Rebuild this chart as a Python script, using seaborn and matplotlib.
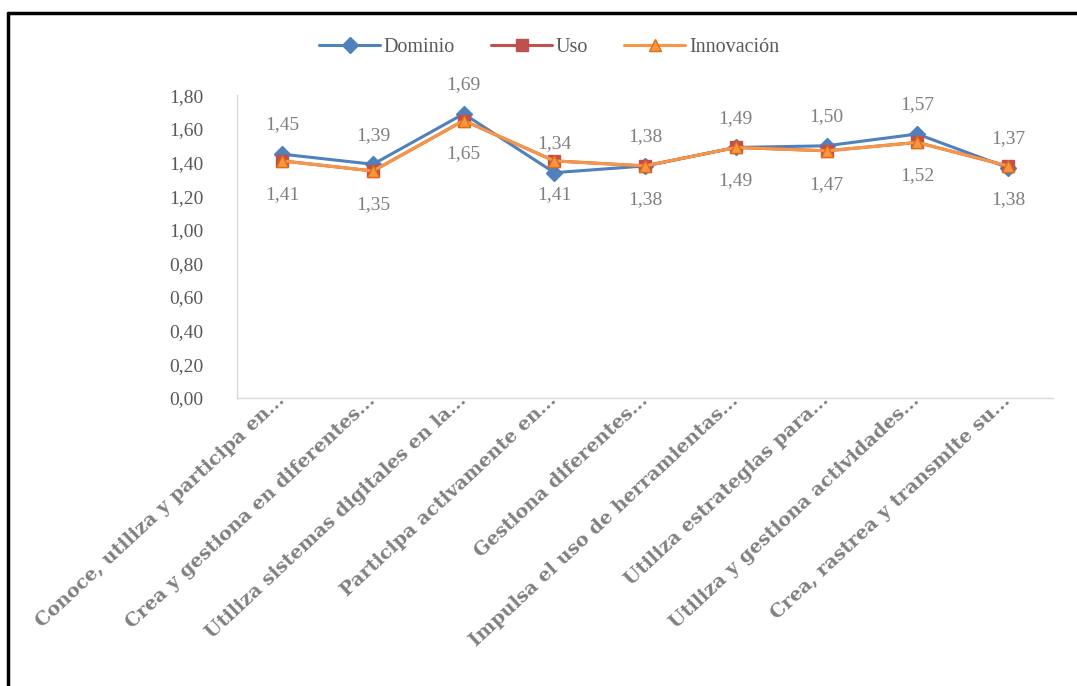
import numpy as np
import pandas as pd
import matplotlib
matplotlib.use("Agg")
import matplotlib.pyplot as plt
import matplotlib.transforms as mtransforms
from matplotlib.lines import Line2D
from matplotlib.font_manager import FontProperties
from matplotlib.ticker import FuncFormatter, MultipleLocator
import seaborn as sns

# Competencias evaluadas (etiquetas del eje X)
categories = [
    "Conoce, utiliza y participa en...",
    "Crea y gestiona en diferentes...",
    "Utiliza sistemas digitales en la...",
    "Participa activamente en...",
    "Gestiona diferentes...",
    "Impulsa el uso de herramientas...",
    "Utiliza estrategias para...",
    "Utiliza y gestiona actividades...",
    "Crea, rastrea y transmite su...",
]

# Medias por dimensión
dominio = [1.45, 1.39, 1.69, 1.34, 1.38, 1.49, 1.50, 1.57, 1.37]
uso = [1.41, 1.35, 1.65, 1.41, 1.38, 1.49, 1.47, 1.52, 1.38]
innovacion = [1.41, 1.35, 1.65, 1.41, 1.38, 1.49, 1.47, 1.52, 1.38]

series_names = ["Dominio", "Uso", "Innovación"]
series_values = [dominio, uso, innovacion]
colors = {"Dominio": "#4F81BD", "Uso": "#C0504D", "Innovación": "#F79646"}
edge_colors = {"Dominio": "#4F81BD", "Uso": "#C0504D", "Innovación": "#E46C0A"}
markers = {"Dominio": "D", "Uso": "s", "Innovación": "^"}
marker_sizes = {"Dominio": 8, "Uso": 9, "Innovación": 8}

pos = np.arange(len(categories))
df = pd.concat(
    [pd.DataFrame({"pos": pos, "valor": vals, "serie": name})
     for name, vals in zip(series_names, series_values)],
    ignore_index=True,
)

sns.set_style("white")
plt.rcParams["font.family"] = ["Liberation Serif", "DejaVu Serif"]

fig = plt.figure(figsize=(10.77, 6.86), dpi=100)
ax = fig.add_axes([0.220, 0.420, 0.758, 0.441])

for name in series_names:
    sub = df[df["serie"] == name]
    sns.lineplot(
        data=sub, x="pos", y="valor", ax=ax,
        color=colors[name], linewidth=2.2,
        marker=markers[name], markersize=marker_sizes[name],
        markerfacecolor=colors[name], markeredgecolor=edge_colors[name],
        markeredgewidth=1.0, label=name, legend=False,
    )

label_color = "#7F7F7F"
fmt = lambda v: f"{v:.2f}".replace(".", ",")
for x, v in zip(pos, dominio):
    ax.annotate(fmt(v), (x, v), xytext=(0, 21), textcoords="offset points",
                ha="center", va="center", fontsize=14, color=label_color)
for x, v in zip(pos, innovacion):
    ax.annotate(fmt(v), (x, v), xytext=(0, -24), textcoords="offset points",
                ha="center", va="center", fontsize=14, color=label_color)

ax.set_xlim(-0.5, len(categories) - 0.5)
ax.set_ylim(0, 1.8)
ax.yaxis.set_major_locator(MultipleLocator(0.2))
ax.yaxis.set_major_formatter(FuncFormatter(lambda v, _: f"{v:.2f}".replace(".", ",")))
ax.set_xlabel("")
ax.set_ylabel("")
ax.set_xticks(pos)
tick_font = FontProperties(family="DejaVu Serif", weight="bold", size=13.8)
ax.set_xticklabels(categories, rotation=43, ha="right", va="center",
                   rotation_mode="anchor", fontproperties=tick_font,
                   color="#808080")
offset = mtransforms.ScaledTranslation(22 / 100, -14 / 100, fig.dpi_scale_trans)
for lbl in ax.get_xticklabels():
    lbl.set_transform(lbl.get_transform() + offset)
ax.tick_params(axis="x", length=0, pad=0)
ax.tick_params(axis="y", length=0, pad=24, labelsize=14, labelcolor="#595959")

for side in ["top", "right"]:
    ax.spines[side].set_visible(False)
for side in ["left", "bottom"]:
    ax.spines[side].set_color("#D9D9D9")
    ax.spines[side].set_linewidth(1.0)
ax.grid(False)

handles = [
    Line2D([0], [0], color=colors[n], linewidth=2.2, marker=markers[n],
           markersize=marker_sizes[n], markerfacecolor=colors[n],
           markeredgecolor=edge_colors[n])
    for n in series_names
]
fig.legend(handles, series_names, loc="center", bbox_to_anchor=(0.51, 0.931),
           ncol=3, frameon=False, fontsize=14.5, handlelength=3.0,
           columnspacing=1.8, handletextpad=0.2, labelcolor="#595959")

# Marco exterior (bordes superior e izquierdo)
fig.add_artist(Line2D([8 / 1077, 1.0], [1 - 13 / 686, 1 - 13 / 686],
                      transform=fig.transFigure, color="black", linewidth=2.5))
fig.add_artist(Line2D([8 / 1077, 8 / 1077], [0.0, 1 - 13 / 686],
                      transform=fig.transFigure, color="black", linewidth=2.5))

fig.savefig("out.png", dpi=100, facecolor="white")
